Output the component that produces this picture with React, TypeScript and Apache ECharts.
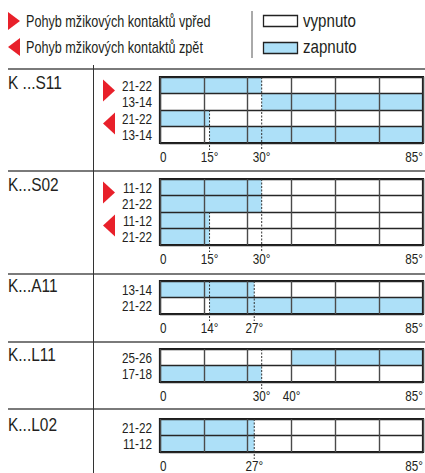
import React, { useEffect, useRef } from "react";
import * as echarts from "echarts";

const FONT = '"Liberation Sans", Arimo, Arial, sans-serif';
const BLUE = "#ade0f8";
const RED = "#e8202a";
const INK = "#231f20";

// ---------- data ----------
const legendDirections = ["Pohyb mžikových kontaktů vpřed", "Pohyb mžikových kontaktů zpět"];
const legendStates = ["vypnuto", "zapnuto"];

const panelTitles = ["K ...S11", "K...S02", "K...A11", "K...L11", "K...L02"];

// schematic angle axis: angle (°) -> position in diagram columns (0..6)
const anglePositions: Record<number, number> = { 0: 0, 14: 1.13, 15: 1.13, 27: 2.15, 30: 2.32, 40: 3, 85: 6 };

const s11Rows = ["21-22", "13-14", "21-22", "13-14"];
const s11On = [[[0, 30]], [[30, 85]], [[0, 15]], [[15, 85]]];
const s11Ticks = [0, 15, 30, 85];
const s11Dashes = [[15, 2], [30, 0]];
const s11Dirs = [["fwd", 0, 1], ["back", 2, 3]];

const s02Rows = ["11-12", "21-22", "11-12", "21-22"];
const s02On = [[[0, 30]], [[0, 30]], [[0, 15]], [[0, 15]]];
const s02Ticks = [0, 15, 30, 85];
const s02Dashes = [[15, 2], [30, 0]];
const s02Dirs = [["fwd", 0, 1], ["back", 2, 3]];

const a11Rows = ["13-14", "21-22"];
const a11On = [[[0, 27]], [[14, 85]]];
const a11Ticks = [0, 14, 27, 85];
const a11Dashes = [[14, 0], [27, 0]];

const l11Rows = ["25-26", "17-18"];
const l11On = [[[40, 85]], [[0, 30]]];
const l11Ticks = [0, 30, 40, 85];
const l11Dashes = [[30, 0]];

const l02Rows = ["21-22", "11-12"];
const l02On = [[[0, 27]], [[0, 27]]];
const l02Ticks = [0, 27, 85];
const l02Dashes = [[27, 0]];

const panels = [
  { title: panelTitles[0], rows: s11Rows, on: s11On, ticks: s11Ticks, dashes: s11Dashes, dirs: s11Dirs },
  { title: panelTitles[1], rows: s02Rows, on: s02On, ticks: s02Ticks, dashes: s02Dashes, dirs: s02Dirs },
  { title: panelTitles[2], rows: a11Rows, on: a11On, ticks: a11Ticks, dashes: a11Dashes, dirs: [] as any[] },
  { title: panelTitles[3], rows: l11Rows, on: l11On, ticks: l11Ticks, dashes: l11Dashes, dirs: [] as any[] },
  { title: panelTitles[4], rows: l02Rows, on: l02On, ticks: l02Ticks, dashes: l02Dashes, dirs: [] as any[] },
];

// ---------- layout ----------
const W = 425, H = 473;
const GRID_LEFT = 160, GRID_W = 263, ROW_H = 16.5;
const gridTops = [77, 179, 281, 349, 419];
const separatorYs = [69, 171, 274, 342, 409];
const titleYs = [83.5, 185, 286, 355.5, 425.5];

const pos = (deg: number) => anglePositions[deg];

// narrow text: Liberation Sans squeezed horizontally (Helvetica Condensed look)
const ntext = (x: number, y: number, text: string, size: number, scale: number, align = "left", extra: any = {}) => ({
  type: "text", x, y, scaleX: scale, scaleY: 1,
  style: { x: 0, y: 0, text, fontFamily: FONT, fontSize: size, fill: INK, align, verticalAlign: "middle" },
  ...extra,
});

export default function App() {
  const ref = useRef<HTMLDivElement>(null);
  useEffect(() => {
    const chart = echarts.init(ref.current!, null, { renderer: "svg" });
    const grids: any[] = [], xAxes: any[] = [], yAxes: any[] = [], series: any[] = [];
    const graphics: any[] = [];

    panels.forEach((p, i) => {
      const n = p.rows.length;
      grids.push({
        left: GRID_LEFT, top: gridTops[i], width: GRID_W, height: n * ROW_H,
        show: true, borderColor: "#1a1a1a", borderWidth: 2.2, z: 10, backgroundColor: "transparent",
      });
      xAxes.push({
        gridIndex: i, type: "value", min: 0, max: 6, interval: 1, z: 10,
        axisLabel: { show: false }, axisLine: { show: false }, axisTick: { show: false },
        splitLine: { show: true, lineStyle: { color: "#4a4a4a", width: 1.4 } },
      });
      yAxes.push({
        gridIndex: i, type: "category", inverse: true, z: 10,
        data: p.rows.map((_, k) => String(k)),
        axisLine: { show: false }, axisTick: { show: false },
        axisLabel: { show: false },
        splitLine: { show: true, interval: 0, lineStyle: { color: "#262626", width: 1.4 } },
      });
      // on-state bars
      const barData: number[][] = [];
      p.on.forEach((intervals, r) => intervals.forEach(([a, b]) => barData.push([pos(a), pos(b), r])));
      series.push({
        type: "custom", xAxisIndex: i, yAxisIndex: i, z: 2,
        data: barData, encode: { x: [0, 1], y: 2 },
        renderItem: (_params: any, api: any) => {
          const r = api.value(2);
          const p1 = api.coord([api.value(0), r]);
          const p2 = api.coord([api.value(1), r]);
          const h = api.size([0, 1])[1];
          return { type: "rect", shape: { x: p1[0], y: p1[1] - h / 2, width: p2[0] - p1[0], height: h }, style: { fill: BLUE } };
        },
      });
      // row labels
      series.push({
        type: "custom", xAxisIndex: i, yAxisIndex: i, z: 12,
        data: p.rows.map((_, r) => [0, r]), encode: { x: 0, y: 1 },
        renderItem: (_params: any, api: any) => {
          const r = api.value(1);
          const c = api.coord([0, r]);
          return ntext(c[0] - 8, c[1] + 0.5, p.rows[r], 15, 0.78, "right");
        },
      });
      // dashed angle markers
      series.push({
        type: "custom", xAxisIndex: i, yAxisIndex: i, z: 12,
        data: p.dashes.map(([deg, r]) => [pos(deg), r]), encode: { x: 0, y: 1 },
        renderItem: (_params: any, api: any) => {
          const h = api.size([0, 1])[1];
          const t = api.coord([api.value(0), api.value(1)]);
          const b = api.coord([api.value(0), n - 1]);
          return {
            type: "line",
            shape: { x1: t[0], y1: t[1] - h / 2, x2: t[0], y2: b[1] + h / 2 + 7 },
            style: { stroke: "#333", lineWidth: 1, lineDash: [2, 1.5] },
          };
        },
      });
      // angle labels
      series.push({
        type: "custom", xAxisIndex: i, yAxisIndex: i, z: 12,
        data: p.ticks.map((deg, k) => [pos(deg), k]), encode: { x: 0 },
        renderItem: (_params: any, api: any) => {
          const k = api.value(1);
          const deg = p.ticks[k];
          const b = api.coord([api.value(0), n - 1]);
          const h = api.size([0, 1])[1];
          const align = k === 0 ? "left" : k === p.ticks.length - 1 ? "right" : "center";
          return ntext(b[0], b[1] + h / 2 + 14, deg === 0 ? "0" : deg + "°", 15, 0.78, align);
        },
      });
      // direction triangles
      if (p.dirs.length) {
        series.push({
          type: "custom", xAxisIndex: i, yAxisIndex: i, z: 12,
          data: p.dirs.map(([d, r1, r2]) => [0, r1, r2, d === "fwd" ? 1 : 0]), encode: { x: 0, y: 1 },
          renderItem: (_params: any, api: any) => {
            const a = api.coord([0, api.value(1)]);
            const c = api.coord([0, api.value(2)]);
            const mid = (a[1] + c[1]) / 2 - 3;
            const half = 11;
            const x0 = a[0] - 57, x1 = a[0] - 45;
            const fwd = api.value(3) === 1;
            const pts = fwd
              ? [[x0, mid - half], [x1, mid], [x0, mid + half]]
              : [[x1, mid - half], [x0, mid], [x1, mid + half]];
            return { type: "polygon", shape: { points: pts }, style: { fill: RED } };
          },
        });
      }
      graphics.push(ntext(8, titleYs[i], p.title, 18, 0.86));
    });

    separatorYs.forEach((y) =>
      graphics.push({ type: "line", shape: { x1: 8, y1: y, x2: W, y2: y }, style: { stroke: "#7a7a7a", lineWidth: 2 } })
    );
    graphics.push({ type: "line", shape: { x1: 93.5, y1: separatorYs[0] - 4, x2: 93.5, y2: H }, style: { stroke: "#333", lineWidth: 1 } });
    // legend
    graphics.push({ type: "line", shape: { x1: 252, y1: 11, x2: 252, y2: 58 }, style: { stroke: "#555", lineWidth: 1 } });
    const legendYs = [21, 47];
    legendDirections.forEach((t, k) => {
      const y = legendYs[k];
      const pts = k === 0 ? [[8, y - 9], [20, y], [8, y + 9]] : [[20, y - 9], [8, y], [20, y + 9]];
      graphics.push({ type: "polygon", shape: { points: pts }, style: { fill: RED } });
      graphics.push(ntext(26, y, t, 16, 0.79));
    });
    legendStates.forEach((t, k) => {
      const y = legendYs[k];
      graphics.push({
        type: "rect", shape: { x: 263.5, y: y - 5.5 + k, width: 34, height: 11 },
        style: { fill: k === 0 ? "#fff" : BLUE, stroke: "#222", lineWidth: 1.3 },
      });
      graphics.push(ntext(303, y, t, 18, 0.84));
    });

    chart.setOption({
      animation: false,
      backgroundColor: "#fff",
      grid: grids, xAxis: xAxes, yAxis: yAxes, series, graphic: graphics,
    });
    return () => chart.dispose();
  }, []);
  return <div ref={ref} style={{ position: "fixed", left: 0, top: 0, width: W, height: H }} />;
}
